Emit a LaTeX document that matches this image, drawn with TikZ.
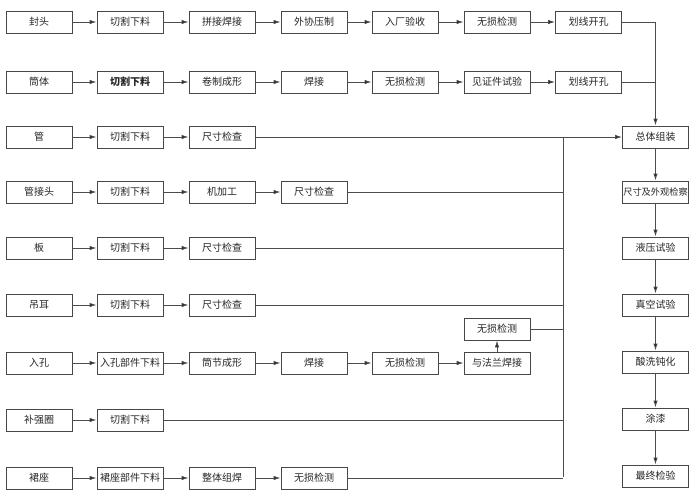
\documentclass[tikz,border=0pt]{standalone}
\usepackage{fontspec}
\newfontfamily\cjk{Noto Sans CJK SC}
\usetikzlibrary{arrows.meta}
\begin{document}
\begin{tikzpicture}[x=1pt,y=-1pt,
  box/.style={draw=black!72,line width=0.9pt,fill=white,minimum width=66pt,minimum height=22pt,inner sep=0pt,font=\cjk\fontsize{10}{12}\selectfont,text=black!85},
  ln/.style={draw=black!70,line width=0.9pt},
  arr/.style={ln,-{Latex[length=7pt,width=4.5pt,fill=black!90]}}]
\useasboundingbox (0,0) rectangle (700,495);
\fill[white] (0,0) rectangle (700,495);
% row 1
\node[box] (a1) at (39,22) {封头};
\node[box] (a2) at (130,22) {切割下料};
\node[box] (a3) at (222,22) {拼接焊接};
\node[box] (a4) at (314,22) {外协压制};
\node[box] (a5) at (405,22) {入厂验收};
\node[box] (a6) at (497,22) {无损检测};
\node[box] (a7) at (588.5,22) {划线开孔};
% row 2
\node[box] (b1) at (39,82) {筒体};
\node[box] (b2) at (130,82) {\textbf{切割下料}};
\node[box] (b3) at (222,82) {卷制成形};
\node[box] (b4) at (314,82) {焊接};
\node[box] (b5) at (405,82) {无损检测};
\node[box] (b6) at (497,82) {见证件试验};
\node[box] (b7) at (588.5,82) {划线开孔};
% row 3
\node[box] (c1) at (39,137) {管};
\node[box] (c2) at (130,137) {切割下料};
\node[box] (c3) at (222,137) {尺寸检查};
% row 4
\node[box] (d1) at (39,192) {管接头};
\node[box] (d2) at (130,192) {切割下料};
\node[box] (d3) at (222,192) {机加工};
\node[box] (d4) at (314,192) {尺寸检查};
% row 5
\node[box] (e1) at (39,248) {板};
\node[box] (e2) at (130,248) {切割下料};
\node[box] (e3) at (222,248) {尺寸检查};
% row 6
\node[box] (f1) at (39,305) {吊耳};
\node[box] (f2) at (130,305) {切割下料};
\node[box] (f3) at (222,305) {尺寸检查};
% row 7
\node[box] (g1) at (39,363) {入孔};
\node[box] (g2) at (130,363) {入孔部件下料};
\node[box] (g3) at (222,363) {筒节成形};
\node[box] (g4) at (314,363) {焊接};
\node[box] (g5) at (405,363) {无损检测};
\node[box] (g6) at (497,363) {与法兰焊接};
\node[box] (g7) at (497,329) {无损检测};
% row 8
\node[box] (h1) at (39,420) {补强圈};
\node[box] (h2) at (130,420) {切割下料};
% row 9
\node[box] (i1) at (39,478) {裙座};
\node[box] (i2) at (130,478) {裙座部件下料};
\node[box] (i3) at (222,478) {整体组焊};
\node[box] (i4) at (314,478) {无损检测};
% right column
\node[box] (z1) at (655.5,137) {总体组装};
\node[box,font=\cjk\fontsize{9.2}{11}\selectfont] (z2) at (655.5,192) {尺寸及外观检察};
\node[box] (z3) at (655.5,248) {液压试验};
\node[box] (z4) at (655.5,305) {真空试验};
\node[box] (z5) at (655.5,362) {酸洗钝化};
\node[box] (z6) at (655.5,419) {涂漆};
\node[box] (z7) at (655.5,476) {最终检验};
% horizontal arrows
\foreach \r/\n in {a/7,b/7,c/3,d/4,e/3,f/3,g/6,h/2,i/4}{
  \pgfmathtruncatemacro{\m}{\n-1}
  \foreach \k in {1,...,\m}{
    \pgfmathtruncatemacro{\kk}{\k+1}
    \draw[arr] (\r\k) -- (\r\kk);
  }
}
\draw[arr] (g6) -- (g7);
% merge bus
\coordinate (m3) at (563,137);
\coordinate (m9) at (563,477);
\draw[ln] (m3) -- (m9);
\draw[ln] (d4.east) -- (m3 |- d4);
\draw[ln] (e3.east) -- (m3 |- e3);
\draw[ln] (f3.east) -- (m3 |- f3);
\draw[ln] (g7.east) -- (m3 |- g7);
\draw[ln] (h2.east) -- (m3 |- h2);
\draw[ln] (i4.east) -- (m3 |- i4);
\draw[arr] (c3) -- (z1);
% top rows
\draw[arr] (a7.east) -| (z1.north);
\draw[ln] (b7.east) -- (z1.north |- b7);
% right column
\draw[arr] (z1) -- (z2);
\draw[arr] (z2) -- (z3);
\draw[arr] (z3) -- (z4);
\draw[arr] (z4) -- (z5);
\draw[arr] (z5) -- (z6);
\draw[arr] (z6) -- (z7);
\end{tikzpicture}
\end{document}
